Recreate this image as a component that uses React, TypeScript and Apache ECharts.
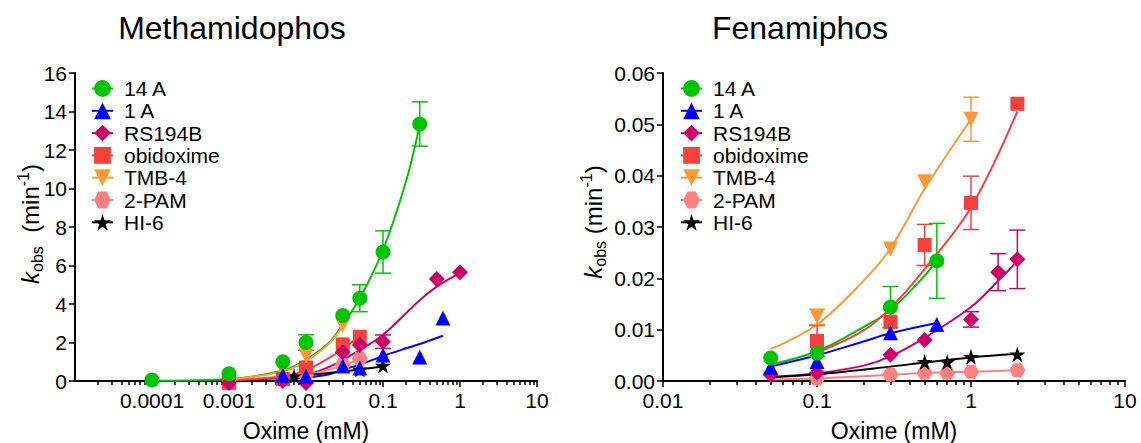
import React, { useEffect, useRef } from 'react';
import * as echarts from 'echarts';

const FONT = '"Liberation Sans", Arial, Helvetica, sans-serif';

const NAMES = ['14 A', '1 A', 'RS194B', 'obidoxime', 'TMB-4', '2-PAM', 'HI-6'];
const TITLES = ['Methamidophos', 'Fenamiphos'];
const X_NAME = 'Oxime (mM)';

// ---------- Methamidophos (left panel) ----------
const METH_14A_X = [0.0001, 0.001, 0.005, 0.01, 0.03, 0.05, 0.1, 0.3];
const METH_14A_Y = [0.05, 0.38, 1.0, 2.0, 3.4, 4.3, 6.7, 13.35];
const METH_14A_ERR = [0, 0, 0, 0.4, 0, 0.7, 1.1, 1.15];
const METH_14A_FIT_X = [0.0001, 0.001, 0.005, 0.01, 0.02, 0.03, 0.05, 0.1, 0.2, 0.3];
const METH_14A_FIT_Y = [0.01, 0.1, 0.55, 1.1, 2.0, 2.95, 4.3, 6.8, 10.4, 13.3];

const METH_1A_X = [0.005, 0.01, 0.03, 0.05, 0.1, 0.3, 0.6];
const METH_1A_Y = [0.3, 0.25, 0.78, 0.67, 1.35, 1.25, 3.27];
const METH_1A_ERR = [0, 0, 0, 0, 0, 0, 0];
const METH_1A_FIT_X = [0.005, 0.01, 0.02, 0.03, 0.05, 0.1, 0.2, 0.3, 0.6];
const METH_1A_FIT_Y = [0.1, 0.17, 0.35, 0.6, 0.85, 1.3, 1.7, 1.92, 2.35];

const METH_RS_X = [0.001, 0.005, 0.01, 0.03, 0.05, 0.1, 0.5, 1];
const METH_RS_Y = [-0.1, 0.0, -0.1, 1.5, 1.87, 2.04, 5.3, 5.65];
const METH_RS_ERR = [0, 0, 0, 0, 0, 0.35, 0, 0];
const METH_RS_FIT_X = [0.001, 0.005, 0.01, 0.02, 0.03, 0.05, 0.1, 0.3, 0.5, 0.8, 1];
const METH_RS_FIT_Y = [0.02, 0.15, 0.3, 0.73, 1.1, 1.6, 2.4, 4.2, 4.9, 5.4, 5.6];

const METH_OBI_X = [0.001, 0.005, 0.01, 0.03, 0.05];
const METH_OBI_Y = [-0.1, 0.1, 0.7, 1.9, 2.3];
const METH_OBI_ERR = [0, 0, 0, 0, 0];
const METH_OBI_FIT_X = [0.001, 0.005, 0.01, 0.02, 0.03, 0.05];
const METH_OBI_FIT_Y = [0.03, 0.25, 0.55, 1.2, 1.65, 2.35];

const METH_TMB_X = [0.005, 0.01, 0.03];
const METH_TMB_Y = [0.6, 1.3, 2.9];
const METH_TMB_ERR = [0, 0, 0];
const METH_TMB_FIT_X = [0.001, 0.005, 0.01, 0.02, 0.03];
const METH_TMB_FIT_Y = [0.07, 0.5, 1.05, 1.95, 2.85];

const METH_PAM_X = [0.01, 0.03, 0.05];
const METH_PAM_Y = [0.3, 0.85, 1.15];
const METH_PAM_ERR = [0, 0, 0];
const METH_PAM_FIT_X = [0.005, 0.01, 0.03, 0.05];
const METH_PAM_FIT_Y = [0.12, 0.3, 0.8, 1.15];

const METH_HI6_X = [0.007, 0.05, 0.1];
const METH_HI6_Y = [0.25, 0.6, 0.8];
const METH_HI6_ERR = [0, 0, 0];
const METH_HI6_FIT_X = [0.007, 0.03, 0.05, 0.1];
const METH_HI6_FIT_Y = [0.22, 0.5, 0.6, 0.75];

// ---------- Fenamiphos (right panel) ----------
const FEN_14A_X = [0.05, 0.1, 0.3, 0.6];
const FEN_14A_Y = [0.0045, 0.0054, 0.0144, 0.0234];
const FEN_14A_ERR = [0, 0, 0.004, 0.0073];
const FEN_14A_FIT_X = [0.05, 0.1, 0.2, 0.3, 0.5, 0.6];
const FEN_14A_FIT_Y = [0.0032, 0.0058, 0.0105, 0.0138, 0.0205, 0.0235];

const FEN_1A_X = [0.05, 0.1, 0.3, 0.6];
const FEN_1A_Y = [0.0027, 0.0038, 0.0094, 0.011];
const FEN_1A_ERR = [0, 0, 0, 0];
const FEN_1A_FIT_X = [0.05, 0.1, 0.2, 0.3, 0.6];
const FEN_1A_FIT_Y = [0.0028, 0.005, 0.0077, 0.0093, 0.0113];

const FEN_RS_X = [0.05, 0.1, 0.3, 0.5, 1, 1.5, 2];
const FEN_RS_Y = [0.0012, 0.0016, 0.0051, 0.008, 0.012, 0.0212, 0.0237];
const FEN_RS_ERR = [0, 0, 0, 0, 0.0015, 0.0036, 0.0057];
const FEN_RS_FIT_X = [0.05, 0.1, 0.2, 0.3, 0.5, 1, 1.5, 2];
const FEN_RS_FIT_Y = [0.0008, 0.0015, 0.003, 0.0048, 0.0084, 0.0144, 0.0195, 0.0234];

const FEN_OBI_X = [0.1, 0.3, 0.5, 1, 2];
const FEN_OBI_Y = [0.0078, 0.0115, 0.0265, 0.0347, 0.054];
const FEN_OBI_ERR = [0.003, 0, 0.004, 0.0052, 0];
const FEN_OBI_FIT_X = [0.1, 0.2, 0.3, 0.5, 1, 2];
const FEN_OBI_FIT_Y = [0.0055, 0.0098, 0.0142, 0.0218, 0.0338, 0.0525];

const FEN_TMB_X = [0.1, 0.3, 0.5, 1];
const FEN_TMB_Y = [0.0125, 0.0257, 0.0388, 0.051];
const FEN_TMB_ERR = [0.0015, 0, 0, 0.0043];
const FEN_TMB_FIT_X = [0.05, 0.1, 0.2, 0.3, 0.5, 1];
const FEN_TMB_FIT_Y = [0.0062, 0.011, 0.0195, 0.0258, 0.0374, 0.051];

const FEN_PAM_X = [0.1, 0.3, 0.5, 0.7, 1, 2];
const FEN_PAM_Y = [0.0005, 0.0012, 0.0016, 0.0016, 0.0018, 0.0021];
const FEN_PAM_ERR = [0, 0, 0, 0, 0, 0];
const FEN_PAM_FIT_X = [0.05, 0.1, 0.3, 0.5, 0.7, 1, 2];
const FEN_PAM_FIT_Y = [0.0003, 0.0005, 0.0012, 0.0016, 0.0017, 0.0018, 0.0021];

const FEN_HI6_X = [0.5, 0.7, 1, 2];
const FEN_HI6_Y = [0.0037, 0.0037, 0.0047, 0.0052];
const FEN_HI6_ERR = [0, 0, 0, 0];
const FEN_HI6_FIT_X = [0.05, 0.1, 0.3, 0.5, 1, 2];
const FEN_HI6_FIT_Y = [0.0007, 0.0013, 0.0028, 0.0036, 0.0046, 0.0053];

// ---------- axis ticks ----------
const METH_X_LABELS = [0.0001, 0.001, 0.01, 0.1, 1, 10];
const FEN_X_LABELS = [0.01, 0.1, 1, 10];
const METH_DECADES = [0.00001, 0.0001, 0.001, 0.01, 0.1, 1];
const FEN_DECADES = [0.01, 0.1, 1];
const MINOR_MULTIPLES = [2, 3, 4, 5, 6, 7, 8, 9];

const COLORS: Record<string, string> = {
  '14 A': '#00C400',
  '1 A': '#0000FF',
  RS194B: '#CC0066',
  obidoxime: '#F54040',
  'TMB-4': '#FF9933',
  '2-PAM': '#FF8080',
  'HI-6': '#000000',
};
const SYMBOLS: Record<string, string> = {
  '14 A': 'circle',
  '1 A': 'triangle',
  RS194B: 'diamond',
  obidoxime: 'rect',
  'TMB-4': 'path://M0,0 L10,0 L5,8.66 Z',
  '2-PAM': 'path://M2.5,0 L7.5,0 L10,4.33 L7.5,8.66 L2.5,8.66 L0,4.33 Z',
  'HI-6': 'path://M50,0 L61.2,34.5 L97.6,34.5 L68.2,55.9 L79.4,90.5 L50,69.1 L20.6,90.5 L31.8,55.9 L2.4,34.5 L38.8,34.5 Z',
};
const SIZES: Record<string, number | number[]> = {
  '14 A': 15,
  '1 A': 15,
  RS194B: 16,
  obidoxime: 14,
  'TMB-4': 15,
  '2-PAM': [16, 14],
  'HI-6': 16,
};

type Panel = { x: number[]; y: number[]; err: number[]; fx: number[]; fy: number[] };
const METH: Record<string, Panel> = {
  '14 A': { x: METH_14A_X, y: METH_14A_Y, err: METH_14A_ERR, fx: METH_14A_FIT_X, fy: METH_14A_FIT_Y },
  '1 A': { x: METH_1A_X, y: METH_1A_Y, err: METH_1A_ERR, fx: METH_1A_FIT_X, fy: METH_1A_FIT_Y },
  RS194B: { x: METH_RS_X, y: METH_RS_Y, err: METH_RS_ERR, fx: METH_RS_FIT_X, fy: METH_RS_FIT_Y },
  obidoxime: { x: METH_OBI_X, y: METH_OBI_Y, err: METH_OBI_ERR, fx: METH_OBI_FIT_X, fy: METH_OBI_FIT_Y },
  'TMB-4': { x: METH_TMB_X, y: METH_TMB_Y, err: METH_TMB_ERR, fx: METH_TMB_FIT_X, fy: METH_TMB_FIT_Y },
  '2-PAM': { x: METH_PAM_X, y: METH_PAM_Y, err: METH_PAM_ERR, fx: METH_PAM_FIT_X, fy: METH_PAM_FIT_Y },
  'HI-6': { x: METH_HI6_X, y: METH_HI6_Y, err: METH_HI6_ERR, fx: METH_HI6_FIT_X, fy: METH_HI6_FIT_Y },
};
const FEN: Record<string, Panel> = {
  '14 A': { x: FEN_14A_X, y: FEN_14A_Y, err: FEN_14A_ERR, fx: FEN_14A_FIT_X, fy: FEN_14A_FIT_Y },
  '1 A': { x: FEN_1A_X, y: FEN_1A_Y, err: FEN_1A_ERR, fx: FEN_1A_FIT_X, fy: FEN_1A_FIT_Y },
  RS194B: { x: FEN_RS_X, y: FEN_RS_Y, err: FEN_RS_ERR, fx: FEN_RS_FIT_X, fy: FEN_RS_FIT_Y },
  obidoxime: { x: FEN_OBI_X, y: FEN_OBI_Y, err: FEN_OBI_ERR, fx: FEN_OBI_FIT_X, fy: FEN_OBI_FIT_Y },
  'TMB-4': { x: FEN_TMB_X, y: FEN_TMB_Y, err: FEN_TMB_ERR, fx: FEN_TMB_FIT_X, fy: FEN_TMB_FIT_Y },
  '2-PAM': { x: FEN_PAM_X, y: FEN_PAM_Y, err: FEN_PAM_ERR, fx: FEN_PAM_FIT_X, fy: FEN_PAM_FIT_Y },
  'HI-6': { x: FEN_HI6_X, y: FEN_HI6_Y, err: FEN_HI6_ERR, fx: FEN_HI6_FIT_X, fy: FEN_HI6_FIT_Y },
};

const DRAW_ORDER = ['2-PAM', 'HI-6', 'obidoxime', 'TMB-4', 'RS194B', '1 A', '14 A'];

function minorTicks(decades: number[]) {
  const out: number[] = [];
  decades.forEach((d) => MINOR_MULTIPLES.forEach((m) => out.push(+(d * m).toPrecision(6))));
  return out;
}

function buildOption() {
  const lines: any[] = [];
  const errs: any[] = [];
  const marks: any[] = [];
  [METH, FEN].forEach((panel, p) => {
    NAMES.forEach((name) => {
      const d = panel[name];
      lines.push({
        type: 'line',
        name,
        xAxisIndex: p * 3,
        yAxisIndex: p,
        data: d.fx.map((x, i) => [x, d.fy[i]]),
        smooth: 0.35,
        showSymbol: false,
        symbol: SYMBOLS[name],
        lineStyle: { color: COLORS[name], width: 2 },
        itemStyle: { color: COLORS[name] },
        silent: true,
        z: 2,
      });
    });
    DRAW_ORDER.forEach((name) => {
      const d = panel[name];
      const ed = d.x.map((x, i) => [x, d.y[i], d.err[i]]).filter((r) => r[2] > 0);
      if (ed.length) {
        errs.push({
          type: 'custom',
          name: name + ' err',
          xAxisIndex: p * 3,
          yAxisIndex: p,
          data: ed,
          encode: { x: 0, y: 1 },
          silent: true,
          clip: false,
          z: 3,
          renderItem: (params: any, api: any) => {
            const x = api.value(0);
            const y = api.value(1);
            const e = api.value(2);
            const top = api.coord([x, y + e]);
            const bot = api.coord([x, y - e]);
            const hw = 8;
            const style = { stroke: COLORS[name], lineWidth: 1.5 };
            return {
              type: 'group',
              children: [
                { type: 'line', shape: { x1: top[0], y1: top[1], x2: bot[0], y2: bot[1] }, style },
                { type: 'line', shape: { x1: top[0] - hw, y1: top[1], x2: top[0] + hw, y2: top[1] }, style },
                { type: 'line', shape: { x1: bot[0] - hw, y1: bot[1], x2: bot[0] + hw, y2: bot[1] }, style },
              ],
            };
          },
        });
      }
      marks.push({
        type: 'scatter',
        name,
        xAxisIndex: p * 3,
        yAxisIndex: p,
        data: d.x.map((x, i) => [x, d.y[i]]),
        symbol: SYMBOLS[name],
        symbolSize: SIZES[name],
        itemStyle: { color: COLORS[name], opacity: 1 },
        clip: false,
        silent: true,
        z: 5,
      });
    });
  });

  const axisLine = { show: true, onZero: false, lineStyle: { color: '#000', width: 2 } };
  const tickStyle = { color: '#000', width: 1.5 };
  const labelStyle = { fontSize: 21, color: '#000', fontFamily: FONT };
  const nameStyle = { fontSize: 23, color: '#000', fontFamily: FONT };

  const xMain = (grid: number, min: number, max: number, labels: number[]) => ({
    gridIndex: grid,
    type: 'log',
    min,
    max,
    position: 'bottom',
    axisLine,
    axisTick: { show: false },
    axisLabel: { ...labelStyle, customValues: labels, margin: 9, formatter: (v: number) => String(v) },
    splitLine: { show: false },
    minorTick: { show: false },
    name: X_NAME,
    nameLocation: 'middle',
    nameGap: 38,
    nameTextStyle: nameStyle,
  });
  const xTicks = (grid: number, min: number, max: number, values: number[], length: number) => ({
    gridIndex: grid,
    type: 'log',
    min,
    max,
    position: 'bottom',
    axisLine: { show: false, onZero: false },
    axisTick: { show: true, customValues: values, length, lineStyle: tickStyle },
    axisLabel: { show: false },
    splitLine: { show: false },
  });

  const legend = (left: number) => ({
    orient: 'vertical',
    left,
    top: 78,
    padding: 0,
    itemWidth: 21,
    itemHeight: 21,
    itemGap: 1.3,
    data: NAMES,
    selectedMode: false,
    textStyle: { fontSize: 21, color: '#000', fontFamily: FONT, padding: [0, 0, 0, 6] },
    lineStyle: { width: 2 },
  });

  const ylabelRich = {
    k: { fontSize: 24, fontStyle: 'italic', fontFamily: FONT, color: '#000', lineHeight: 30, verticalAlign: 'middle' },
    n: { fontSize: 24, fontFamily: FONT, color: '#000', lineHeight: 30, verticalAlign: 'middle' },
    sub: { fontSize: 16, fontFamily: FONT, color: '#000', lineHeight: 16, verticalAlign: 'bottom' },
    sup: { fontSize: 16, fontFamily: FONT, color: '#000', lineHeight: 16, verticalAlign: 'top' },
  };

  return {
    animation: false,
    backgroundColor: '#fff',
    grid: [
      { left: 75, top: 73, width: 462, height: 308, outerBoundsMode: 'none', containLabel: false },
      { left: 663, top: 73, width: 462, height: 308, outerBoundsMode: 'none', containLabel: false },
    ],
    xAxis: [
      xMain(0, 0.00001, 10, METH_X_LABELS),
      xTicks(0, 0.00001, 10, METH_X_LABELS, 6),
      xTicks(0, 0.00001, 10, minorTicks(METH_DECADES), 4),
      xMain(1, 0.01, 10, FEN_X_LABELS),
      xTicks(1, 0.01, 10, FEN_X_LABELS, 6),
      xTicks(1, 0.01, 10, minorTicks(FEN_DECADES), 4),
    ],
    yAxis: [
      {
        gridIndex: 0,
        type: 'value',
        min: 0,
        max: 16,
        interval: 2,
        axisLine,
        axisTick: { show: true, length: 6, lineStyle: tickStyle },
        axisLabel: { ...labelStyle, margin: 8 },
        splitLine: { show: false },
      },
      {
        gridIndex: 1,
        type: 'value',
        min: 0,
        max: 0.06,
        interval: 0.01,
        axisLine,
        axisTick: { show: true, length: 6, lineStyle: tickStyle },
        axisLabel: { ...labelStyle, margin: 8, formatter: (v: number) => v.toFixed(2) },
        splitLine: { show: false },
      },
    ],
    legend: [legend(91), legend(680)],
    graphic: [
      {
        type: 'text',
        x: 232,
        y: 28,
        style: { text: TITLES[0], fontSize: 32, fontFamily: FONT, fill: '#000', align: 'center', verticalAlign: 'middle' },
      },
      {
        type: 'text',
        x: 800,
        y: 28,
        style: { text: TITLES[1], fontSize: 32, fontFamily: FONT, fill: '#000', align: 'center', verticalAlign: 'middle' },
      },
      {
        type: 'text',
        x: 30,
        y: 224,
        rotation: Math.PI / 2,
        style: {
          text: '{k|k}{sub|obs}{n|  (min}{sup|-1}{n|)}',
          rich: ylabelRich,
          align: 'center',
          verticalAlign: 'middle',
        },
      },
      {
        type: 'text',
        x: 593,
        y: 222,
        rotation: Math.PI / 2,
        style: {
          text: '{k|k}{sub|obs}{n| (min}{sup|-1}{n|)}',
          rich: ylabelRich,
          align: 'center',
          verticalAlign: 'middle',
        },
      },
    ],
    series: [...lines, ...errs, ...marks],
  };
}

export default function App() {
  const ref = useRef<HTMLDivElement>(null);
  useEffect(() => {
    document.body.style.margin = '0';
    const chart = echarts.init(ref.current!, null, { renderer: 'svg' });
    chart.setOption(buildOption() as any);
    return () => chart.dispose();
  }, []);
  return <div ref={ref} style={{ width: 1141, height: 443 }} />;
}
